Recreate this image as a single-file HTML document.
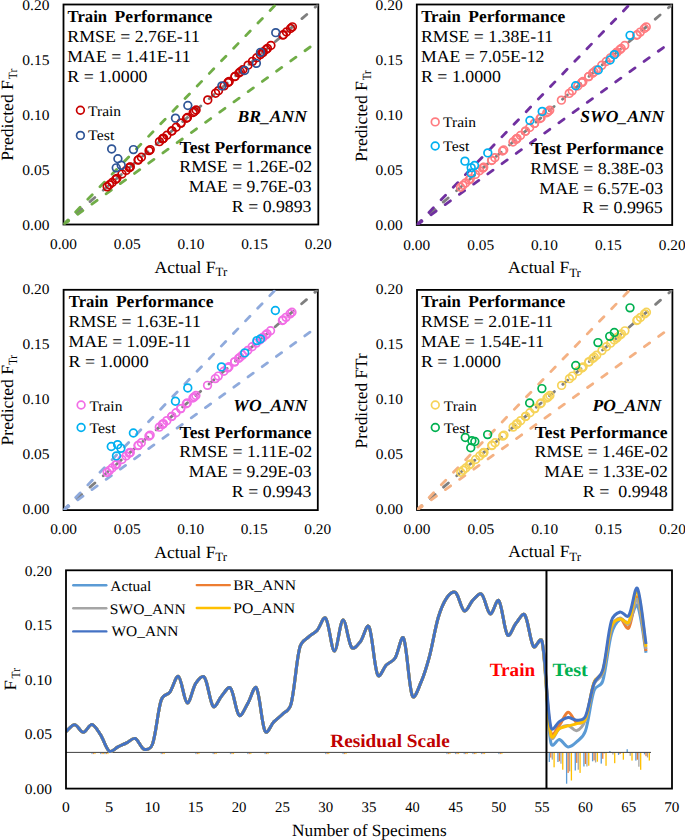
<!DOCTYPE html>
<html><head><meta charset="utf-8"><title>FTr charts</title>
<style>
html,body{margin:0;padding:0;background:#fff;}
body{width:685px;height:840px;overflow:hidden;}
svg{display:block;font-family:"Liberation Serif", serif;text-rendering:geometricPrecision;}
</style></head>
<body>
<svg width="685" height="840" viewBox="0 0 685 840">
<rect width="685" height="840" fill="#fff"/>
<clipPath id="c0"><rect x="63.5" y="4.5" width="254.8" height="220"/></clipPath>
<rect x="63.5" y="4.5" width="254.8" height="220" fill="none" stroke="#000" stroke-width="1.8"/>
<g clip-path="url(#c0)" fill="none" stroke-linecap="round" stroke-width="2.8" stroke-dasharray="6.4 11.1">
<line x1="63.5" y1="224.5" x2="318.3" y2="4.5" stroke="#7F7F7F"/>
<line x1="63.5" y1="224.5" x2="275.83" y2="4.5" stroke="#70AD47"/>
<line x1="63.5" y1="224.5" x2="318.3" y2="41.17" stroke="#70AD47"/>
</g>
<g fill="none" stroke="#C80000" stroke-width="1.7">
<circle cx="129.91" cy="167.16" r="3.85"/>
<circle cx="138.08" cy="160.1" r="3.85"/>
<circle cx="129.21" cy="167.76" r="3.85"/>
<circle cx="138.43" cy="159.8" r="3.85"/>
<circle cx="126.18" cy="170.38" r="3.85"/>
<circle cx="107.15" cy="186.81" r="3.85"/>
<circle cx="112.17" cy="182.48" r="3.85"/>
<circle cx="116.84" cy="178.44" r="3.85"/>
<circle cx="121.98" cy="174.01" r="3.85"/>
<circle cx="109.49" cy="184.79" r="3.85"/>
<circle cx="115.56" cy="179.55" r="3.85"/>
<circle cx="166.91" cy="135.21" r="3.85"/>
<circle cx="176.13" cy="127.25" r="3.85"/>
<circle cx="194.46" cy="111.43" r="3.85"/>
<circle cx="163.53" cy="138.13" r="3.85"/>
<circle cx="186.52" cy="118.28" r="3.85"/>
<circle cx="193.18" cy="112.53" r="3.85"/>
<circle cx="159.44" cy="141.66" r="3.85"/>
<circle cx="171.93" cy="130.88" r="3.85"/>
<circle cx="180.92" cy="123.12" r="3.85"/>
<circle cx="149.06" cy="150.63" r="3.85"/>
<circle cx="162.95" cy="138.64" r="3.85"/>
<circle cx="180.92" cy="123.12" r="3.85"/>
<circle cx="130.26" cy="166.85" r="3.85"/>
<circle cx="141.35" cy="157.28" r="3.85"/>
<circle cx="150.22" cy="149.62" r="3.85"/>
<circle cx="162.48" cy="139.04" r="3.85"/>
<circle cx="228.08" cy="82.4" r="3.85"/>
<circle cx="240.33" cy="71.82" r="3.85"/>
<circle cx="248.03" cy="65.17" r="3.85"/>
<circle cx="262.51" cy="52.67" r="3.85"/>
<circle cx="224.11" cy="85.83" r="3.85"/>
<circle cx="260.29" cy="54.59" r="3.85"/>
<circle cx="228.19" cy="82.3" r="3.85"/>
<circle cx="234.96" cy="76.46" r="3.85"/>
<circle cx="252.47" cy="61.34" r="3.85"/>
<circle cx="196.09" cy="110.02" r="3.85"/>
<circle cx="207.77" cy="99.94" r="3.85"/>
<circle cx="215.59" cy="93.19" r="3.85"/>
<circle cx="238.93" cy="73.03" r="3.85"/>
<circle cx="171.82" cy="130.98" r="3.85"/>
<circle cx="187.46" cy="117.47" r="3.85"/>
<circle cx="218.5" cy="90.67" r="3.85"/>
<circle cx="263.21" cy="52.07" r="3.85"/>
<circle cx="286.44" cy="32.01" r="3.85"/>
<circle cx="292.39" cy="26.87" r="3.85"/>
<circle cx="270.91" cy="45.42" r="3.85"/>
<circle cx="283.4" cy="34.63" r="3.85"/>
<circle cx="290.52" cy="28.49" r="3.85"/>
<circle cx="267.41" cy="48.44" r="3.85"/>
<circle cx="282.82" cy="35.14" r="3.85"/>
<circle cx="242.78" cy="69.7" r="3.85"/>
<circle cx="256.67" cy="57.71" r="3.85"/>
<circle cx="266.13" cy="49.55" r="3.85"/>
<circle cx="229.24" cy="81.39" r="3.85"/>
<circle cx="234.96" cy="76.46" r="3.85"/>
</g>
<g fill="none" stroke="#2F5597" stroke-width="1.7">
<circle cx="111.66" cy="148.93" r="3.85"/>
<circle cx="117.9" cy="158.72" r="3.85"/>
<circle cx="116.24" cy="167.85" r="3.85"/>
<circle cx="121.21" cy="165.32" r="3.85"/>
<circle cx="133.44" cy="149.59" r="3.85"/>
<circle cx="175.48" cy="118.13" r="3.85"/>
<circle cx="187.84" cy="105.48" r="3.85"/>
<circle cx="221.86" cy="85.9" r="3.85"/>
<circle cx="244.66" cy="70.5" r="3.85"/>
<circle cx="256.38" cy="63.35" r="3.85"/>
<circle cx="260.46" cy="52.35" r="3.85"/>
<circle cx="275.75" cy="32.66" r="3.85"/>
</g>
<text x="67.55" y="22.3" font-size="16.9" textLength="39.5" lengthAdjust="spacingAndGlyphs" font-weight="bold">Train</text>
<text x="114.6" y="22.3" font-size="16.9" textLength="97.76" lengthAdjust="spacingAndGlyphs" font-weight="bold">Performance</text>
<text x="67.29" y="42.05" font-size="16.9" textLength="132.57" lengthAdjust="spacingAndGlyphs">RMSE = 2.76E-11</text>
<text x="67.29" y="61.8" font-size="16.9" textLength="123.37" lengthAdjust="spacingAndGlyphs">MAE = 1.41E-11</text>
<text x="67.28" y="81.55" font-size="16.9" textLength="80.3" lengthAdjust="spacingAndGlyphs">R = 1.0000</text>
<text x="237.56" y="121.9" font-size="16.9" textLength="69.41" lengthAdjust="spacingAndGlyphs" font-weight="bold" font-style="italic">BR_ANN</text>
<text x="179.63" y="152.6" font-size="16.9" textLength="132.02" lengthAdjust="spacingAndGlyphs" font-weight="bold">Test Performance</text>
<text x="179.39" y="172.3" font-size="16.9" textLength="132.79" lengthAdjust="spacingAndGlyphs">RMSE = 1.26E-02</text>
<text x="188.79" y="192" font-size="16.9" textLength="122.69" lengthAdjust="spacingAndGlyphs">MAE = 9.76E-03</text>
<text x="231.89" y="211.7" font-size="16.9" textLength="79.61" lengthAdjust="spacingAndGlyphs">R = 0.9893</text>
<circle cx="80.4" cy="110.3" r="3.85" fill="none" stroke="#C80000" stroke-width="1.7"/>
<circle cx="80.4" cy="135.4" r="3.85" fill="none" stroke="#2F5597" stroke-width="1.7"/>
<text x="88.12" y="115.8" font-size="14.6" textLength="33.01" lengthAdjust="spacingAndGlyphs">Train</text>
<text x="88.13" y="140.3" font-size="14.6" textLength="26.16" lengthAdjust="spacingAndGlyphs">Test</text>
<text x="50.07" y="249.1" font-size="14.8" textLength="26.87" lengthAdjust="spacingAndGlyphs">0.00</text>
<text x="22.31" y="229.8" font-size="14.8" textLength="27.08" lengthAdjust="spacingAndGlyphs">0.00</text>
<text x="113.76" y="249.1" font-size="14.8" textLength="26.89" lengthAdjust="spacingAndGlyphs">0.05</text>
<text x="22.31" y="174.8" font-size="14.8" textLength="27.09" lengthAdjust="spacingAndGlyphs">0.05</text>
<text x="177.47" y="249.1" font-size="14.8" textLength="26.87" lengthAdjust="spacingAndGlyphs">0.10</text>
<text x="22.31" y="119.8" font-size="14.8" textLength="27.08" lengthAdjust="spacingAndGlyphs">0.10</text>
<text x="241.16" y="249.1" font-size="14.8" textLength="26.89" lengthAdjust="spacingAndGlyphs">0.15</text>
<text x="22.31" y="64.8" font-size="14.8" textLength="27.09" lengthAdjust="spacingAndGlyphs">0.15</text>
<text x="304.87" y="249.1" font-size="14.8" textLength="26.87" lengthAdjust="spacingAndGlyphs">0.20</text>
<text x="22.31" y="9.8" font-size="14.8" textLength="27.08" lengthAdjust="spacingAndGlyphs">0.20</text>
<text x="154.53" y="272.5" font-size="17.2" textLength="61.11" lengthAdjust="spacingAndGlyphs">Actual F</text>
<text x="215.58" y="276.3" font-size="12.6" textLength="11.63" lengthAdjust="spacingAndGlyphs">Tr</text>
<g transform="translate(13.4,0)"><text x="-160.71" y="0" font-size="17.2" textLength="80.54" lengthAdjust="spacingAndGlyphs" transform="rotate(-90)">Predicted F</text></g>
<g transform="translate(17,0)"><text x="-79.2" y="0" font-size="12.6" textLength="10.4" lengthAdjust="spacingAndGlyphs" transform="rotate(-90)">Tr</text></g>
<clipPath id="c1"><rect x="416.8" y="4.5" width="255.4" height="220.5"/></clipPath>
<rect x="416.8" y="4.5" width="255.4" height="220.5" fill="none" stroke="#000" stroke-width="1.8"/>
<g clip-path="url(#c1)" fill="none" stroke-linecap="round" stroke-width="2.8" stroke-dasharray="6.4 11.1">
<line x1="416.8" y1="225" x2="672.2" y2="4.5" stroke="#7F7F7F"/>
<line x1="416.8" y1="225" x2="629.63" y2="4.5" stroke="#7030A0"/>
<line x1="416.8" y1="225" x2="672.2" y2="41.25" stroke="#7030A0"/>
</g>
<g fill="none" stroke="#FF7C80" stroke-width="1.7">
<circle cx="483.37" cy="167.53" r="3.85"/>
<circle cx="491.56" cy="160.46" r="3.85"/>
<circle cx="482.67" cy="168.13" r="3.85"/>
<circle cx="491.91" cy="160.15" r="3.85"/>
<circle cx="479.63" cy="170.76" r="3.85"/>
<circle cx="460.56" cy="187.22" r="3.85"/>
<circle cx="465.59" cy="182.88" r="3.85"/>
<circle cx="470.27" cy="178.84" r="3.85"/>
<circle cx="475.41" cy="174.4" r="3.85"/>
<circle cx="462.9" cy="185.2" r="3.85"/>
<circle cx="468.98" cy="179.95" r="3.85"/>
<circle cx="520.46" cy="135.51" r="3.85"/>
<circle cx="529.7" cy="127.53" r="3.85"/>
<circle cx="548.07" cy="111.67" r="3.85"/>
<circle cx="517.06" cy="138.44" r="3.85"/>
<circle cx="540.11" cy="118.54" r="3.85"/>
<circle cx="546.78" cy="112.78" r="3.85"/>
<circle cx="512.97" cy="141.97" r="3.85"/>
<circle cx="525.49" cy="131.16" r="3.85"/>
<circle cx="534.5" cy="123.39" r="3.85"/>
<circle cx="502.56" cy="150.96" r="3.85"/>
<circle cx="516.48" cy="138.94" r="3.85"/>
<circle cx="534.5" cy="123.39" r="3.85"/>
<circle cx="483.72" cy="167.22" r="3.85"/>
<circle cx="494.84" cy="157.63" r="3.85"/>
<circle cx="503.73" cy="149.95" r="3.85"/>
<circle cx="516.01" cy="139.35" r="3.85"/>
<circle cx="581.76" cy="82.58" r="3.85"/>
<circle cx="594.05" cy="71.97" r="3.85"/>
<circle cx="601.77" cy="65.31" r="3.85"/>
<circle cx="616.28" cy="52.78" r="3.85"/>
<circle cx="577.79" cy="86.01" r="3.85"/>
<circle cx="614.05" cy="54.7" r="3.85"/>
<circle cx="581.88" cy="82.48" r="3.85"/>
<circle cx="588.67" cy="76.62" r="3.85"/>
<circle cx="606.21" cy="61.47" r="3.85"/>
<circle cx="549.71" cy="110.26" r="3.85"/>
<circle cx="561.41" cy="100.15" r="3.85"/>
<circle cx="569.24" cy="93.39" r="3.85"/>
<circle cx="592.64" cy="73.19" r="3.85"/>
<circle cx="525.37" cy="131.26" r="3.85"/>
<circle cx="541.05" cy="117.73" r="3.85"/>
<circle cx="572.17" cy="90.86" r="3.85"/>
<circle cx="616.98" cy="52.18" r="3.85"/>
<circle cx="640.26" cy="32.08" r="3.85"/>
<circle cx="646.23" cy="26.92" r="3.85"/>
<circle cx="624.7" cy="45.51" r="3.85"/>
<circle cx="637.22" cy="34.7" r="3.85"/>
<circle cx="644.36" cy="28.54" r="3.85"/>
<circle cx="621.19" cy="48.54" r="3.85"/>
<circle cx="636.63" cy="35.21" r="3.85"/>
<circle cx="596.5" cy="69.85" r="3.85"/>
<circle cx="610.43" cy="57.83" r="3.85"/>
<circle cx="619.9" cy="49.65" r="3.85"/>
<circle cx="582.93" cy="81.57" r="3.85"/>
<circle cx="588.67" cy="76.62" r="3.85"/>
</g>
<g fill="none" stroke="#00B0F0" stroke-width="1.7">
<circle cx="464.94" cy="161.17" r="3.85"/>
<circle cx="471.2" cy="167.67" r="3.85"/>
<circle cx="474.52" cy="165.47" r="3.85"/>
<circle cx="471.2" cy="173.18" r="3.85"/>
<circle cx="487.8" cy="152.9" r="3.85"/>
<circle cx="529.94" cy="120.48" r="3.85"/>
<circle cx="542.2" cy="111.44" r="3.85"/>
<circle cx="575.66" cy="85.75" r="3.85"/>
<circle cx="598.26" cy="69.99" r="3.85"/>
<circle cx="610.14" cy="59.96" r="3.85"/>
<circle cx="614.35" cy="54.66" r="3.85"/>
<circle cx="630.06" cy="35.37" r="3.85"/>
</g>
<text x="421.25" y="22.3" font-size="16.9" textLength="39.5" lengthAdjust="spacingAndGlyphs" font-weight="bold">Train</text>
<text x="468.3" y="22.3" font-size="16.9" textLength="97.05" lengthAdjust="spacingAndGlyphs" font-weight="bold">Performance</text>
<text x="420.99" y="42.05" font-size="16.9" textLength="132.27" lengthAdjust="spacingAndGlyphs">RMSE = 1.38E-11</text>
<text x="420.99" y="61.8" font-size="16.9" textLength="123.38" lengthAdjust="spacingAndGlyphs">MAE = 7.05E-12</text>
<text x="420.99" y="81.55" font-size="16.9" textLength="79.99" lengthAdjust="spacingAndGlyphs">R = 1.0000</text>
<text x="580.28" y="121.5" font-size="16.9" textLength="83.99" lengthAdjust="spacingAndGlyphs" font-weight="bold" font-style="italic">SWO_ANN</text>
<text x="531.03" y="154.3" font-size="16.9" textLength="132.42" lengthAdjust="spacingAndGlyphs" font-weight="bold">Test Performance</text>
<text x="530.39" y="174.2" font-size="16.9" textLength="132.91" lengthAdjust="spacingAndGlyphs">RMSE = 8.38E-03</text>
<text x="539.39" y="193.9" font-size="16.9" textLength="123.7" lengthAdjust="spacingAndGlyphs">MAE = 6.57E-03</text>
<text x="582.38" y="213.1" font-size="16.9" textLength="80.42" lengthAdjust="spacingAndGlyphs">R = 0.9965</text>
<circle cx="435.2" cy="121.9" r="3.85" fill="none" stroke="#FF7C80" stroke-width="1.7"/>
<circle cx="435.2" cy="146" r="3.85" fill="none" stroke="#00B0F0" stroke-width="1.7"/>
<text x="443.12" y="127.2" font-size="14.6" textLength="33.01" lengthAdjust="spacingAndGlyphs">Train</text>
<text x="443.13" y="151.3" font-size="14.6" textLength="26.16" lengthAdjust="spacingAndGlyphs">Test</text>
<text x="403.37" y="249.6" font-size="14.8" textLength="26.87" lengthAdjust="spacingAndGlyphs">0.00</text>
<text x="375.61" y="230.3" font-size="14.8" textLength="27.08" lengthAdjust="spacingAndGlyphs">0.00</text>
<text x="467.21" y="249.6" font-size="14.8" textLength="26.89" lengthAdjust="spacingAndGlyphs">0.05</text>
<text x="375.61" y="175.18" font-size="14.8" textLength="27.09" lengthAdjust="spacingAndGlyphs">0.05</text>
<text x="531.07" y="249.6" font-size="14.8" textLength="26.87" lengthAdjust="spacingAndGlyphs">0.10</text>
<text x="375.61" y="120.05" font-size="14.8" textLength="27.08" lengthAdjust="spacingAndGlyphs">0.10</text>
<text x="594.91" y="249.6" font-size="14.8" textLength="26.89" lengthAdjust="spacingAndGlyphs">0.15</text>
<text x="375.61" y="64.92" font-size="14.8" textLength="27.09" lengthAdjust="spacingAndGlyphs">0.15</text>
<text x="658.77" y="249.6" font-size="14.8" textLength="26.87" lengthAdjust="spacingAndGlyphs">0.20</text>
<text x="375.61" y="9.8" font-size="14.8" textLength="27.08" lengthAdjust="spacingAndGlyphs">0.20</text>
<text x="508.13" y="273" font-size="17.2" textLength="61.11" lengthAdjust="spacingAndGlyphs">Actual F</text>
<text x="569.18" y="276.8" font-size="12.6" textLength="11.63" lengthAdjust="spacingAndGlyphs">Tr</text>
<g transform="translate(367,0)"><text x="-161.71" y="0" font-size="17.2" textLength="80.54" lengthAdjust="spacingAndGlyphs" transform="rotate(-90)">Predicted F</text></g>
<g transform="translate(370.6,0)"><text x="-80.19" y="0" font-size="12.6" textLength="9.78" lengthAdjust="spacingAndGlyphs" transform="rotate(-90)">Tr</text></g>
<clipPath id="c2"><rect x="63.6" y="289.8" width="254.2" height="220.3"/></clipPath>
<rect x="63.6" y="289.8" width="254.2" height="220.3" fill="none" stroke="#000" stroke-width="1.8"/>
<g clip-path="url(#c2)" fill="none" stroke-linecap="round" stroke-width="2.8" stroke-dasharray="6.4 11.1">
<line x1="63.6" y1="510.1" x2="317.8" y2="289.8" stroke="#7F7F7F"/>
<line x1="63.6" y1="510.1" x2="275.43" y2="289.8" stroke="#8FAADC"/>
<line x1="63.6" y1="510.1" x2="317.8" y2="326.52" stroke="#8FAADC"/>
</g>
<g fill="none" stroke="#F26EE6" stroke-width="1.7">
<circle cx="129.86" cy="452.68" r="3.85"/>
<circle cx="138.01" cy="445.61" r="3.85"/>
<circle cx="129.16" cy="453.28" r="3.85"/>
<circle cx="138.36" cy="445.31" r="3.85"/>
<circle cx="126.13" cy="455.91" r="3.85"/>
<circle cx="107.15" cy="472.36" r="3.85"/>
<circle cx="112.16" cy="468.02" r="3.85"/>
<circle cx="116.82" cy="463.98" r="3.85"/>
<circle cx="121.94" cy="459.54" r="3.85"/>
<circle cx="109.48" cy="470.34" r="3.85"/>
<circle cx="115.53" cy="465.09" r="3.85"/>
<circle cx="166.77" cy="420.69" r="3.85"/>
<circle cx="175.97" cy="412.72" r="3.85"/>
<circle cx="194.25" cy="396.87" r="3.85"/>
<circle cx="163.39" cy="423.61" r="3.85"/>
<circle cx="186.33" cy="403.73" r="3.85"/>
<circle cx="192.97" cy="397.98" r="3.85"/>
<circle cx="159.32" cy="427.15" r="3.85"/>
<circle cx="171.78" cy="416.35" r="3.85"/>
<circle cx="180.74" cy="408.58" r="3.85"/>
<circle cx="148.95" cy="436.13" r="3.85"/>
<circle cx="162.81" cy="424.12" r="3.85"/>
<circle cx="180.74" cy="408.58" r="3.85"/>
<circle cx="130.21" cy="452.38" r="3.85"/>
<circle cx="141.27" cy="442.79" r="3.85"/>
<circle cx="150.12" cy="435.12" r="3.85"/>
<circle cx="162.35" cy="424.52" r="3.85"/>
<circle cx="227.79" cy="367.81" r="3.85"/>
<circle cx="240.01" cy="357.21" r="3.85"/>
<circle cx="247.7" cy="350.55" r="3.85"/>
<circle cx="262.14" cy="338.04" r="3.85"/>
<circle cx="223.83" cy="371.24" r="3.85"/>
<circle cx="259.93" cy="339.96" r="3.85"/>
<circle cx="227.9" cy="367.71" r="3.85"/>
<circle cx="234.66" cy="361.85" r="3.85"/>
<circle cx="252.12" cy="346.72" r="3.85"/>
<circle cx="195.88" cy="395.46" r="3.85"/>
<circle cx="207.53" cy="385.37" r="3.85"/>
<circle cx="215.33" cy="378.61" r="3.85"/>
<circle cx="238.62" cy="358.42" r="3.85"/>
<circle cx="171.66" cy="416.45" r="3.85"/>
<circle cx="187.26" cy="402.93" r="3.85"/>
<circle cx="218.24" cy="376.08" r="3.85"/>
<circle cx="262.84" cy="337.43" r="3.85"/>
<circle cx="286.01" cy="317.35" r="3.85"/>
<circle cx="291.95" cy="312.2" r="3.85"/>
<circle cx="270.52" cy="330.77" r="3.85"/>
<circle cx="282.98" cy="319.97" r="3.85"/>
<circle cx="290.09" cy="313.82" r="3.85"/>
<circle cx="267.03" cy="333.8" r="3.85"/>
<circle cx="282.4" cy="320.48" r="3.85"/>
<circle cx="242.46" cy="355.09" r="3.85"/>
<circle cx="256.32" cy="343.08" r="3.85"/>
<circle cx="265.75" cy="334.91" r="3.85"/>
<circle cx="228.95" cy="366.8" r="3.85"/>
<circle cx="234.66" cy="361.85" r="3.85"/>
</g>
<g fill="none" stroke="#00B0F0" stroke-width="1.7">
<circle cx="111.26" cy="446.54" r="3.85"/>
<circle cx="117.62" cy="444.67" r="3.85"/>
<circle cx="120.92" cy="448.31" r="3.85"/>
<circle cx="116.47" cy="455.91" r="3.85"/>
<circle cx="133.38" cy="433" r="3.85"/>
<circle cx="175.45" cy="401.27" r="3.85"/>
<circle cx="187.78" cy="387.94" r="3.85"/>
<circle cx="221.46" cy="366.9" r="3.85"/>
<circle cx="244.72" cy="352.92" r="3.85"/>
<circle cx="256.92" cy="340.58" r="3.85"/>
<circle cx="260.48" cy="338.93" r="3.85"/>
<circle cx="275.35" cy="310.51" r="3.85"/>
</g>
<text x="68.85" y="307.3" font-size="16.9" textLength="39.5" lengthAdjust="spacingAndGlyphs" font-weight="bold">Train</text>
<text x="115.9" y="307.3" font-size="16.9" textLength="97.55" lengthAdjust="spacingAndGlyphs" font-weight="bold">Performance</text>
<text x="68.59" y="327.05" font-size="16.9" textLength="132.37" lengthAdjust="spacingAndGlyphs">RMSE = 1.63E-11</text>
<text x="68.59" y="346.8" font-size="16.9" textLength="122.46" lengthAdjust="spacingAndGlyphs">MAE = 1.09E-11</text>
<text x="68.59" y="366.55" font-size="16.9" textLength="80.1" lengthAdjust="spacingAndGlyphs">R = 1.0000</text>
<text x="233.39" y="411.3" font-size="16.9" textLength="74.09" lengthAdjust="spacingAndGlyphs" font-weight="bold" font-style="italic">WO_ANN</text>
<text x="179.63" y="437.6" font-size="16.9" textLength="132.02" lengthAdjust="spacingAndGlyphs" font-weight="bold">Test Performance</text>
<text x="179.39" y="457.3" font-size="16.9" textLength="132.79" lengthAdjust="spacingAndGlyphs">RMSE = 1.11E-02</text>
<text x="188.79" y="477" font-size="16.9" textLength="122.69" lengthAdjust="spacingAndGlyphs">MAE = 9.29E-03</text>
<text x="231.89" y="496.7" font-size="16.9" textLength="79.61" lengthAdjust="spacingAndGlyphs">R = 0.9943</text>
<circle cx="81.1" cy="405" r="3.85" fill="none" stroke="#F26EE6" stroke-width="1.7"/>
<circle cx="81.1" cy="427.5" r="3.85" fill="none" stroke="#00B0F0" stroke-width="1.7"/>
<text x="89.42" y="410.6" font-size="14.6" textLength="33.01" lengthAdjust="spacingAndGlyphs">Train</text>
<text x="89.43" y="433.1" font-size="14.6" textLength="26.16" lengthAdjust="spacingAndGlyphs">Test</text>
<text x="50.17" y="533.6" font-size="14.8" textLength="26.87" lengthAdjust="spacingAndGlyphs">0.00</text>
<text x="22.41" y="514.3" font-size="14.8" textLength="27.08" lengthAdjust="spacingAndGlyphs">0.00</text>
<text x="113.71" y="533.6" font-size="14.8" textLength="26.89" lengthAdjust="spacingAndGlyphs">0.05</text>
<text x="22.41" y="459.23" font-size="14.8" textLength="27.09" lengthAdjust="spacingAndGlyphs">0.05</text>
<text x="177.27" y="533.6" font-size="14.8" textLength="26.87" lengthAdjust="spacingAndGlyphs">0.10</text>
<text x="22.41" y="404.15" font-size="14.8" textLength="27.08" lengthAdjust="spacingAndGlyphs">0.10</text>
<text x="240.81" y="533.6" font-size="14.8" textLength="26.89" lengthAdjust="spacingAndGlyphs">0.15</text>
<text x="22.41" y="349.07" font-size="14.8" textLength="27.09" lengthAdjust="spacingAndGlyphs">0.15</text>
<text x="304.37" y="533.6" font-size="14.8" textLength="26.87" lengthAdjust="spacingAndGlyphs">0.20</text>
<text x="22.41" y="294" font-size="14.8" textLength="27.08" lengthAdjust="spacingAndGlyphs">0.20</text>
<text x="154.33" y="557.55" font-size="17.2" textLength="61.11" lengthAdjust="spacingAndGlyphs">Actual F</text>
<text x="215.38" y="561.35" font-size="12.6" textLength="11.63" lengthAdjust="spacingAndGlyphs">Tr</text>
<g transform="translate(13.4,0)"><text x="-445.51" y="0" font-size="17.2" textLength="80.54" lengthAdjust="spacingAndGlyphs" transform="rotate(-90)">Predicted F</text></g>
<g transform="translate(17,0)"><text x="-364.78" y="0" font-size="12.6" textLength="9.57" lengthAdjust="spacingAndGlyphs" transform="rotate(-90)">Tr</text></g>
<clipPath id="c3"><rect x="417" y="289.9" width="255.4" height="220.1"/></clipPath>
<rect x="417" y="289.9" width="255.4" height="220.1" fill="none" stroke="#000" stroke-width="1.8"/>
<g clip-path="url(#c3)" fill="none" stroke-linecap="round" stroke-width="2.8" stroke-dasharray="6.4 11.1">
<line x1="417" y1="510" x2="672.4" y2="289.9" stroke="#7F7F7F"/>
<line x1="417" y1="510" x2="629.83" y2="289.9" stroke="#F4B183"/>
<line x1="417" y1="510" x2="672.4" y2="326.58" stroke="#F4B183"/>
</g>
<g fill="none" stroke="#F6D359" stroke-width="1.7">
<circle cx="483.57" cy="452.63" r="3.85"/>
<circle cx="491.76" cy="445.57" r="3.85"/>
<circle cx="482.87" cy="453.24" r="3.85"/>
<circle cx="492.11" cy="445.27" r="3.85"/>
<circle cx="479.83" cy="455.86" r="3.85"/>
<circle cx="460.76" cy="472.29" r="3.85"/>
<circle cx="465.79" cy="467.96" r="3.85"/>
<circle cx="470.47" cy="463.92" r="3.85"/>
<circle cx="475.61" cy="459.49" r="3.85"/>
<circle cx="463.1" cy="470.28" r="3.85"/>
<circle cx="469.18" cy="465.03" r="3.85"/>
<circle cx="520.66" cy="420.67" r="3.85"/>
<circle cx="529.9" cy="412.7" r="3.85"/>
<circle cx="548.27" cy="396.87" r="3.85"/>
<circle cx="517.26" cy="423.59" r="3.85"/>
<circle cx="540.31" cy="403.73" r="3.85"/>
<circle cx="546.98" cy="397.98" r="3.85"/>
<circle cx="513.17" cy="427.12" r="3.85"/>
<circle cx="525.69" cy="416.33" r="3.85"/>
<circle cx="534.7" cy="408.57" r="3.85"/>
<circle cx="502.76" cy="436.1" r="3.85"/>
<circle cx="516.68" cy="424.1" r="3.85"/>
<circle cx="534.7" cy="408.57" r="3.85"/>
<circle cx="483.92" cy="452.33" r="3.85"/>
<circle cx="495.04" cy="442.75" r="3.85"/>
<circle cx="503.93" cy="435.09" r="3.85"/>
<circle cx="516.21" cy="424.5" r="3.85"/>
<circle cx="581.96" cy="367.84" r="3.85"/>
<circle cx="594.25" cy="357.25" r="3.85"/>
<circle cx="601.97" cy="350.6" r="3.85"/>
<circle cx="616.48" cy="338.09" r="3.85"/>
<circle cx="577.99" cy="371.27" r="3.85"/>
<circle cx="614.25" cy="340.01" r="3.85"/>
<circle cx="582.08" cy="367.74" r="3.85"/>
<circle cx="588.87" cy="361.89" r="3.85"/>
<circle cx="606.41" cy="346.77" r="3.85"/>
<circle cx="549.91" cy="395.46" r="3.85"/>
<circle cx="561.61" cy="385.38" r="3.85"/>
<circle cx="569.44" cy="378.63" r="3.85"/>
<circle cx="592.84" cy="358.46" r="3.85"/>
<circle cx="525.57" cy="416.43" r="3.85"/>
<circle cx="541.25" cy="402.92" r="3.85"/>
<circle cx="572.37" cy="376.1" r="3.85"/>
<circle cx="617.18" cy="337.49" r="3.85"/>
<circle cx="640.46" cy="317.43" r="3.85"/>
<circle cx="646.43" cy="312.28" r="3.85"/>
<circle cx="624.9" cy="330.83" r="3.85"/>
<circle cx="637.42" cy="320.05" r="3.85"/>
<circle cx="644.56" cy="313.9" r="3.85"/>
<circle cx="621.39" cy="333.86" r="3.85"/>
<circle cx="636.83" cy="320.55" r="3.85"/>
<circle cx="596.7" cy="355.13" r="3.85"/>
<circle cx="610.63" cy="343.14" r="3.85"/>
<circle cx="620.1" cy="334.97" r="3.85"/>
<circle cx="583.13" cy="366.83" r="3.85"/>
<circle cx="588.87" cy="361.89" r="3.85"/>
</g>
<g fill="none" stroke="#00B050" stroke-width="1.7">
<circle cx="465.27" cy="437.48" r="3.85"/>
<circle cx="471.91" cy="440.78" r="3.85"/>
<circle cx="474.85" cy="441.55" r="3.85"/>
<circle cx="470.76" cy="447.71" r="3.85"/>
<circle cx="487.62" cy="434.62" r="3.85"/>
<circle cx="529.63" cy="403.03" r="3.85"/>
<circle cx="541.89" cy="388.61" r="3.85"/>
<circle cx="575.73" cy="365.5" r="3.85"/>
<circle cx="597.95" cy="342.61" r="3.85"/>
<circle cx="609.7" cy="336.34" r="3.85"/>
<circle cx="614.3" cy="332.49" r="3.85"/>
<circle cx="630" cy="307.84" r="3.85"/>
</g>
<text x="421.25" y="307.3" font-size="16.9" textLength="39.5" lengthAdjust="spacingAndGlyphs" font-weight="bold">Train</text>
<text x="468.3" y="307.3" font-size="16.9" textLength="97.05" lengthAdjust="spacingAndGlyphs" font-weight="bold">Performance</text>
<text x="420.99" y="327.05" font-size="16.9" textLength="132.27" lengthAdjust="spacingAndGlyphs">RMSE = 2.01E-11</text>
<text x="420.99" y="346.8" font-size="16.9" textLength="123.07" lengthAdjust="spacingAndGlyphs">MAE = 1.54E-11</text>
<text x="420.99" y="366.55" font-size="16.9" textLength="79.99" lengthAdjust="spacingAndGlyphs">R = 1.0000</text>
<text x="592.61" y="411.3" font-size="16.9" textLength="68.87" lengthAdjust="spacingAndGlyphs" font-weight="bold" font-style="italic">PO_ANN</text>
<text x="534.73" y="437.6" font-size="16.9" textLength="132.82" lengthAdjust="spacingAndGlyphs" font-weight="bold">Test Performance</text>
<text x="534.49" y="457.3" font-size="16.9" textLength="133.6" lengthAdjust="spacingAndGlyphs">RMSE = 1.46E-02</text>
<text x="544.39" y="477" font-size="16.9" textLength="123.59" lengthAdjust="spacingAndGlyphs">MAE = 1.33E-02</text>
<text x="582.68" y="496.7" font-size="16.9" textLength="85" lengthAdjust="spacingAndGlyphs">R = &#160;0.9948</text>
<circle cx="435.3" cy="405" r="3.85" fill="none" stroke="#F6D359" stroke-width="1.7"/>
<circle cx="435.3" cy="427.5" r="3.85" fill="none" stroke="#00B050" stroke-width="1.7"/>
<text x="443.72" y="410.6" font-size="14.6" textLength="33.01" lengthAdjust="spacingAndGlyphs">Train</text>
<text x="443.73" y="433.1" font-size="14.6" textLength="26.16" lengthAdjust="spacingAndGlyphs">Test</text>
<text x="403.57" y="533.5" font-size="14.8" textLength="26.87" lengthAdjust="spacingAndGlyphs">0.00</text>
<text x="375.81" y="514.2" font-size="14.8" textLength="27.08" lengthAdjust="spacingAndGlyphs">0.00</text>
<text x="467.41" y="533.5" font-size="14.8" textLength="26.89" lengthAdjust="spacingAndGlyphs">0.05</text>
<text x="375.81" y="459.18" font-size="14.8" textLength="27.09" lengthAdjust="spacingAndGlyphs">0.05</text>
<text x="531.27" y="533.5" font-size="14.8" textLength="26.87" lengthAdjust="spacingAndGlyphs">0.10</text>
<text x="375.81" y="404.15" font-size="14.8" textLength="27.08" lengthAdjust="spacingAndGlyphs">0.10</text>
<text x="595.11" y="533.5" font-size="14.8" textLength="26.89" lengthAdjust="spacingAndGlyphs">0.15</text>
<text x="375.81" y="349.12" font-size="14.8" textLength="27.09" lengthAdjust="spacingAndGlyphs">0.15</text>
<text x="658.97" y="533.5" font-size="14.8" textLength="26.87" lengthAdjust="spacingAndGlyphs">0.20</text>
<text x="375.81" y="294.1" font-size="14.8" textLength="27.08" lengthAdjust="spacingAndGlyphs">0.20</text>
<text x="508.33" y="557.45" font-size="17.2" textLength="61.11" lengthAdjust="spacingAndGlyphs">Actual F</text>
<text x="569.38" y="561.25" font-size="12.6" textLength="11.63" lengthAdjust="spacingAndGlyphs">Tr</text>
<g transform="translate(367,0)"><text x="-448.4" y="0" font-size="17.2" textLength="95.15" lengthAdjust="spacingAndGlyphs" transform="rotate(-90)">Predicted FTr</text></g>
<rect x="66" y="570.3" width="606" height="218.3" fill="#fff"/>
<clipPath id="cb"><rect x="66" y="570.3" width="606" height="218.3"/></clipPath>
<g>
<rect x="548.65" y="752.4" width="1.3" height="9.6" fill="#5B9BD5"/>
<rect x="550.15" y="752.4" width="1.3" height="5.2" fill="#ED7D31"/>
<rect x="551.65" y="752.4" width="1.3" height="7.2" fill="#A5A5A5"/>
<rect x="553.45" y="752.4" width="1.3" height="14.9" fill="#FFC000"/>
<rect x="557.31" y="752.4" width="1.3" height="9.6" fill="#5B9BD5"/>
<rect x="558.81" y="752.4" width="1.3" height="8.9" fill="#ED7D31"/>
<rect x="560.31" y="752.4" width="1.3" height="11.3" fill="#A5A5A5"/>
<rect x="562.11" y="752.4" width="1.3" height="17.3" fill="#FFC000"/>
<rect x="565.96" y="752.4" width="1.3" height="31.3" fill="#5B9BD5"/>
<rect x="567.46" y="752.4" width="1.3" height="20.5" fill="#ED7D31"/>
<rect x="568.96" y="752.4" width="1.3" height="18.9" fill="#A5A5A5"/>
<rect x="570.76" y="752.4" width="1.3" height="28.1" fill="#FFC000"/>
<rect x="574.62" y="752.4" width="1.3" height="18.1" fill="#5B9BD5"/>
<rect x="576.12" y="752.4" width="1.3" height="10.5" fill="#ED7D31"/>
<rect x="577.62" y="752.4" width="1.3" height="17.3" fill="#A5A5A5"/>
<rect x="579.42" y="752.4" width="1.3" height="20.5" fill="#FFC000"/>
<rect x="583.28" y="752.4" width="1.3" height="14.1" fill="#5B9BD5"/>
<rect x="584.78" y="752.4" width="1.3" height="11.6" fill="#ED7D31"/>
<rect x="586.28" y="752.4" width="1.3" height="14.1" fill="#A5A5A5"/>
<rect x="588.08" y="752.4" width="1.3" height="13.3" fill="#FFC000"/>
<rect x="591.94" y="752.4" width="1.3" height="8.9" fill="#5B9BD5"/>
<rect x="593.44" y="752.4" width="1.3" height="8" fill="#ED7D31"/>
<rect x="594.94" y="752.4" width="1.3" height="10.1" fill="#A5A5A5"/>
<rect x="596.74" y="752.4" width="1.3" height="9.3" fill="#FFC000"/>
<rect x="600.59" y="752.4" width="1.3" height="11.2" fill="#5B9BD5"/>
<rect x="602.09" y="752.4" width="1.3" height="6.4" fill="#ED7D31"/>
<rect x="603.59" y="752.4" width="1.3" height="1.1" fill="#A5A5A5"/>
<rect x="605.39" y="752.4" width="1.3" height="13.4" fill="#FFC000"/>
<rect x="609.25" y="751" width="1.3" height="1.4" fill="#5B9BD5"/>
<rect x="610.75" y="752.4" width="1.3" height="0.6" fill="#ED7D31"/>
<rect x="612.25" y="752.4" width="1.3" height="2.1" fill="#A5A5A5"/>
<rect x="614.05" y="752.4" width="1.3" height="10.8" fill="#FFC000"/>
<rect x="617.91" y="752.4" width="1.3" height="2.5" fill="#5B9BD5"/>
<rect x="619.41" y="752.4" width="1.3" height="1.6" fill="#ED7D31"/>
<rect x="620.91" y="752.4" width="1.3" height="0.6" fill="#A5A5A5"/>
<rect x="622.71" y="752.4" width="1.3" height="7.3" fill="#FFC000"/>
<rect x="626.56" y="749.2" width="1.3" height="3.2" fill="#5B9BD5"/>
<rect x="628.06" y="752.4" width="1.3" height="0.6" fill="#ED7D31"/>
<rect x="629.56" y="752.4" width="1.3" height="3.4" fill="#A5A5A5"/>
<rect x="631.36" y="752.4" width="1.3" height="8.2" fill="#FFC000"/>
<rect x="635.22" y="752.4" width="1.3" height="8.2" fill="#5B9BD5"/>
<rect x="636.72" y="752.4" width="1.3" height="7.3" fill="#ED7D31"/>
<rect x="638.22" y="752.4" width="1.3" height="14.3" fill="#A5A5A5"/>
<rect x="640.02" y="752.4" width="1.3" height="17.4" fill="#FFC000"/>
<rect x="643.88" y="752.4" width="1.3" height="2" fill="#5B9BD5"/>
<rect x="645.38" y="752.4" width="1.3" height="3.8" fill="#ED7D31"/>
<rect x="646.88" y="752.4" width="1.3" height="5.1" fill="#A5A5A5"/>
<rect x="648.68" y="752.4" width="1.3" height="8.2" fill="#FFC000"/>
</g>
<rect x="91.37" y="752.8" width="1.2" height="1.3" fill="#5B9BD5" fill-opacity="0.8"/>
<rect x="92.87" y="752.8" width="1.2" height="1.3" fill="#ED7D31" fill-opacity="0.8"/>
<rect x="94.37" y="752.8" width="1.2" height="1.3" fill="#FFC000" fill-opacity="0.8"/>
<rect x="100.03" y="752.8" width="1.2" height="1.3" fill="#5B9BD5" fill-opacity="0.8"/>
<rect x="101.53" y="752.8" width="1.2" height="1.3" fill="#ED7D31" fill-opacity="0.8"/>
<rect x="103.03" y="752.8" width="1.2" height="1.3" fill="#FFC000" fill-opacity="0.8"/>
<rect x="104.36" y="752.8" width="1.2" height="1.3" fill="#5B9BD5" fill-opacity="0.8"/>
<rect x="105.86" y="752.8" width="1.2" height="1.3" fill="#ED7D31" fill-opacity="0.8"/>
<rect x="107.36" y="752.8" width="1.2" height="1.3" fill="#FFC000" fill-opacity="0.8"/>
<rect x="160.63" y="752.8" width="1.2" height="1.3" fill="#5B9BD5" fill-opacity="0.8"/>
<rect x="162.13" y="752.8" width="1.2" height="1.3" fill="#ED7D31" fill-opacity="0.8"/>
<rect x="163.63" y="752.8" width="1.2" height="1.3" fill="#FFC000" fill-opacity="0.8"/>
<rect x="195.26" y="752.8" width="1.2" height="1.3" fill="#5B9BD5" fill-opacity="0.8"/>
<rect x="196.76" y="752.8" width="1.2" height="1.3" fill="#ED7D31" fill-opacity="0.8"/>
<rect x="198.26" y="752.8" width="1.2" height="1.3" fill="#FFC000" fill-opacity="0.8"/>
<rect x="212.57" y="752.8" width="1.2" height="1.3" fill="#5B9BD5" fill-opacity="0.8"/>
<rect x="214.07" y="752.8" width="1.2" height="1.3" fill="#ED7D31" fill-opacity="0.8"/>
<rect x="215.57" y="752.8" width="1.2" height="1.3" fill="#FFC000" fill-opacity="0.8"/>
<rect x="229.89" y="752.8" width="1.2" height="1.3" fill="#5B9BD5" fill-opacity="0.8"/>
<rect x="231.39" y="752.8" width="1.2" height="1.3" fill="#ED7D31" fill-opacity="0.8"/>
<rect x="232.89" y="752.8" width="1.2" height="1.3" fill="#FFC000" fill-opacity="0.8"/>
<rect x="247.2" y="752.8" width="1.2" height="1.3" fill="#5B9BD5" fill-opacity="0.8"/>
<rect x="248.7" y="752.8" width="1.2" height="1.3" fill="#ED7D31" fill-opacity="0.8"/>
<rect x="250.2" y="752.8" width="1.2" height="1.3" fill="#FFC000" fill-opacity="0.8"/>
<rect x="264.51" y="752.8" width="1.2" height="1.3" fill="#5B9BD5" fill-opacity="0.8"/>
<rect x="266.01" y="752.8" width="1.2" height="1.3" fill="#ED7D31" fill-opacity="0.8"/>
<rect x="267.51" y="752.8" width="1.2" height="1.3" fill="#FFC000" fill-opacity="0.8"/>
<rect x="325.11" y="752.8" width="1.2" height="1.3" fill="#5B9BD5" fill-opacity="0.8"/>
<rect x="326.61" y="752.8" width="1.2" height="1.3" fill="#ED7D31" fill-opacity="0.8"/>
<rect x="328.11" y="752.8" width="1.2" height="1.3" fill="#FFC000" fill-opacity="0.8"/>
<rect x="342.43" y="752.8" width="1.2" height="1.3" fill="#5B9BD5" fill-opacity="0.8"/>
<rect x="343.93" y="752.8" width="1.2" height="1.3" fill="#ED7D31" fill-opacity="0.8"/>
<rect x="345.43" y="752.8" width="1.2" height="1.3" fill="#FFC000" fill-opacity="0.8"/>
<rect x="446.31" y="752.8" width="1.2" height="1.3" fill="#5B9BD5" fill-opacity="0.8"/>
<rect x="447.81" y="752.8" width="1.2" height="1.3" fill="#ED7D31" fill-opacity="0.8"/>
<rect x="449.31" y="752.8" width="1.2" height="1.3" fill="#FFC000" fill-opacity="0.8"/>
<rect x="454.97" y="752.8" width="1.2" height="1.3" fill="#5B9BD5" fill-opacity="0.8"/>
<rect x="456.47" y="752.8" width="1.2" height="1.3" fill="#ED7D31" fill-opacity="0.8"/>
<rect x="457.97" y="752.8" width="1.2" height="1.3" fill="#FFC000" fill-opacity="0.8"/>
<rect x="463.63" y="752.8" width="1.2" height="1.3" fill="#5B9BD5" fill-opacity="0.8"/>
<rect x="465.13" y="752.8" width="1.2" height="1.3" fill="#ED7D31" fill-opacity="0.8"/>
<rect x="466.63" y="752.8" width="1.2" height="1.3" fill="#FFC000" fill-opacity="0.8"/>
<rect x="472.29" y="752.8" width="1.2" height="1.3" fill="#5B9BD5" fill-opacity="0.8"/>
<rect x="473.79" y="752.8" width="1.2" height="1.3" fill="#ED7D31" fill-opacity="0.8"/>
<rect x="475.29" y="752.8" width="1.2" height="1.3" fill="#FFC000" fill-opacity="0.8"/>
<rect x="480.94" y="752.8" width="1.2" height="1.3" fill="#5B9BD5" fill-opacity="0.8"/>
<rect x="482.44" y="752.8" width="1.2" height="1.3" fill="#ED7D31" fill-opacity="0.8"/>
<rect x="483.94" y="752.8" width="1.2" height="1.3" fill="#FFC000" fill-opacity="0.8"/>
<rect x="498.26" y="752.8" width="1.2" height="1.3" fill="#5B9BD5" fill-opacity="0.8"/>
<rect x="499.76" y="752.8" width="1.2" height="1.3" fill="#ED7D31" fill-opacity="0.8"/>
<rect x="501.26" y="752.8" width="1.2" height="1.3" fill="#FFC000" fill-opacity="0.8"/>
<line x1="66" y1="752.4" x2="651" y2="752.4" stroke="#404040" stroke-width="1"/>
<g clip-path="url(#cb)" fill="none" stroke-width="3" stroke-linejoin="round" stroke-linecap="butt">
<path d="M66,731.7C67.9,730.16 71.79,724.6 74.66,724.7C77.56,724.8 80.44,732.35 83.31,732.3C86.21,732.25 89.17,723.98 91.97,724.4C94.94,724.85 97.93,730.72 100.63,734.9C103.68,739.63 106.07,748.97 109.29,751.2C111.77,752.92 115.05,748.29 117.94,746.9C120.82,745.52 123.72,744.29 126.6,742.9C129.5,741.49 132.58,737.53 135.26,738.5C138.33,739.62 140.86,748.23 143.91,749.2C146.61,750.06 150.64,749.5 152.57,744C156.08,734.02 157.76,710.4 161.23,700C163.26,693.92 167.26,695.68 169.89,692.1C173,687.86 175.93,674.77 178.54,676.4C181.66,678.35 184.17,701.71 187.2,702.9C189.93,703.97 192.6,687.97 195.86,683.2C198.29,679.64 202.31,674.54 204.51,677.5C207.9,682.03 209.9,702.96 213.17,706.4C215.56,708.92 218.85,698.87 221.83,695.7C224.61,692.74 228.17,685.38 230.49,688C233.81,691.76 235.92,712.43 239.14,715.3C241.61,717.5 245.02,707.78 247.8,703.4C250.79,698.69 254.15,684.27 256.46,688C259.79,693.38 261.68,724.67 265.11,731.4C267.21,735.51 270.82,724.81 273.77,721.9C276.59,719.11 279.64,717.21 282.43,714.3C285.41,711.19 289.11,711.4 291.09,703.8C294.58,690.34 296.25,661.06 299.74,647.6C301.72,640 305.39,640.07 308.4,637.1C311.15,634.38 314.37,633.45 317.06,630.5C320.12,627.14 323.34,615.29 325.71,618.1C329,621.99 331.45,650.68 334.37,651C337.22,651.31 340.08,620.6 343.03,620C345.85,619.43 348.32,643.28 351.69,647.5C353.93,650.31 357.77,644.79 360.34,641.7C363.5,637.91 366.78,622.42 369,626.7C372.37,633.19 374.2,667.34 377.66,675C379.71,679.53 383.32,667.89 386.31,665C389.09,662.32 392.51,662.09 394.97,658.3C398.21,653.31 401.36,633.4 403.63,638.3C406.98,645.56 408.83,687 412.29,695.8C414.35,701.05 418.4,688.27 420.94,682.4C424.12,675.06 426.92,665.85 429.6,655.8C432.67,644.29 435.06,628.23 438.26,617.5C440.78,609.03 443.64,602.32 446.91,597.6C449.32,594.13 453.13,590.62 455.57,592.5C458.81,594.99 461.13,609.52 464.23,610.9C466.88,612.08 469.86,603.14 472.89,600.2C475.61,597.55 479.1,592.17 481.54,594.1C484.79,596.67 487.14,612.73 490.2,613.9C492.9,614.93 496.48,597.8 498.86,600.7C502.14,604.7 504.2,630.71 507.51,635C509.85,638.02 513.17,626.57 516.17,623.1C518.93,619.92 522.59,611.96 524.83,615C528.19,619.57 530.06,641.32 533.49,646.6C535.61,649.88 540.69,633.67 542.14,641.7C545.81,662.01 547.12,721.73 550.8,742.5C552.21,750.45 556.7,738.8 559.46,739.5C562.46,740.26 565.16,746.52 568.11,746.9C570.93,747.26 574.07,744.18 576.77,741.7C579.83,738.89 583.24,737.46 585.43,731C588.82,720.96 590.67,700.37 594.09,690.5C596.23,684.32 600.7,687.68 602.74,681C606.2,669.7 608.03,645.98 611.4,634C613.63,626.1 616.86,621.63 620.06,619.5C622.56,617.83 626.29,624.46 628.71,622.5C631.97,619.87 635.07,601.48 637.37,605.5C640.7,611.31 644.12,642.32 646.03,652.7" stroke="#5B9BD5"/>
<path d="M66,731.7C67.9,730.16 71.79,724.6 74.66,724.7C77.56,724.8 80.44,732.35 83.31,732.3C86.21,732.25 89.17,723.98 91.97,724.4C94.94,724.85 97.93,730.72 100.63,734.9C103.68,739.63 106.07,748.97 109.29,751.2C111.77,752.92 115.05,748.29 117.94,746.9C120.82,745.52 123.72,744.29 126.6,742.9C129.5,741.49 132.58,737.53 135.26,738.5C138.33,739.62 140.86,748.23 143.91,749.2C146.61,750.06 150.64,749.5 152.57,744C156.08,734.02 157.76,710.4 161.23,700C163.26,693.92 167.26,695.68 169.89,692.1C173,687.86 175.93,674.77 178.54,676.4C181.66,678.35 184.17,701.71 187.2,702.9C189.93,703.97 192.6,687.97 195.86,683.2C198.29,679.64 202.31,674.54 204.51,677.5C207.9,682.03 209.9,702.96 213.17,706.4C215.56,708.92 218.85,698.87 221.83,695.7C224.61,692.74 228.17,685.38 230.49,688C233.81,691.76 235.92,712.43 239.14,715.3C241.61,717.5 245.02,707.78 247.8,703.4C250.79,698.69 254.15,684.27 256.46,688C259.79,693.38 261.68,724.67 265.11,731.4C267.21,735.51 270.82,724.81 273.77,721.9C276.59,719.11 279.64,717.21 282.43,714.3C285.41,711.19 289.11,711.4 291.09,703.8C294.58,690.34 296.25,661.06 299.74,647.6C301.72,640 305.39,640.07 308.4,637.1C311.15,634.38 314.37,633.45 317.06,630.5C320.12,627.14 323.34,615.29 325.71,618.1C329,621.99 331.45,650.68 334.37,651C337.22,651.31 340.08,620.6 343.03,620C345.85,619.43 348.32,643.28 351.69,647.5C353.93,650.31 357.77,644.79 360.34,641.7C363.5,637.91 366.78,622.42 369,626.7C372.37,633.19 374.2,667.34 377.66,675C379.71,679.53 383.32,667.89 386.31,665C389.09,662.32 392.51,662.09 394.97,658.3C398.21,653.31 401.36,633.4 403.63,638.3C406.98,645.56 408.83,687 412.29,695.8C414.35,701.05 418.4,688.27 420.94,682.4C424.12,675.06 426.92,665.85 429.6,655.8C432.67,644.29 435.06,628.23 438.26,617.5C440.78,609.03 443.64,602.32 446.91,597.6C449.32,594.13 453.13,590.62 455.57,592.5C458.81,594.99 461.13,609.52 464.23,610.9C466.88,612.08 469.86,603.14 472.89,600.2C475.61,597.55 479.1,592.17 481.54,594.1C484.79,596.67 487.14,612.73 490.2,613.9C492.9,614.93 496.48,597.8 498.86,600.7C502.14,604.7 504.2,630.71 507.51,635C509.85,638.02 513.17,626.57 516.17,623.1C518.93,619.92 522.59,611.96 524.83,615C528.19,619.57 530.06,641.32 533.49,646.6C535.61,649.88 540.63,634.26 542.14,641.7C545.8,659.72 547.16,714.51 550.8,732C552.37,739.56 556.77,728.06 559.46,725C562.52,721.52 565.15,712.75 568.11,712.3C570.91,711.88 573.69,721.23 576.77,722.4C579.44,723.42 583.43,723.51 585.43,718.9C588.91,710.87 590.73,691.69 594.09,682.5C596.35,676.28 600.59,678.19 602.74,671.4C606.15,660.67 607.96,638.52 611.4,628C613.5,621.57 617.17,618.4 620.06,618.4C622.94,618.4 626.4,630.85 628.71,628C632.04,623.89 634.81,593.6 637.37,597C640.54,601.2 644.12,639.12 646.03,651" stroke="#ED7D31"/>
<path d="M66,731.7C67.9,730.16 71.79,724.6 74.66,724.7C77.56,724.8 80.44,732.35 83.31,732.3C86.21,732.25 89.17,723.98 91.97,724.4C94.94,724.85 97.93,730.72 100.63,734.9C103.68,739.63 106.07,748.97 109.29,751.2C111.77,752.92 115.05,748.29 117.94,746.9C120.82,745.52 123.72,744.29 126.6,742.9C129.5,741.49 132.58,737.53 135.26,738.5C138.33,739.62 140.86,748.23 143.91,749.2C146.61,750.06 150.64,749.5 152.57,744C156.08,734.02 157.76,710.4 161.23,700C163.26,693.92 167.26,695.68 169.89,692.1C173,687.86 175.93,674.77 178.54,676.4C181.66,678.35 184.17,701.71 187.2,702.9C189.93,703.97 192.6,687.97 195.86,683.2C198.29,679.64 202.31,674.54 204.51,677.5C207.9,682.03 209.9,702.96 213.17,706.4C215.56,708.92 218.85,698.87 221.83,695.7C224.61,692.74 228.17,685.38 230.49,688C233.81,691.76 235.92,712.43 239.14,715.3C241.61,717.5 245.02,707.78 247.8,703.4C250.79,698.69 254.15,684.27 256.46,688C259.79,693.38 261.68,724.67 265.11,731.4C267.21,735.51 270.82,724.81 273.77,721.9C276.59,719.11 279.64,717.21 282.43,714.3C285.41,711.19 289.11,711.4 291.09,703.8C294.58,690.34 296.25,661.06 299.74,647.6C301.72,640 305.39,640.07 308.4,637.1C311.15,634.38 314.37,633.45 317.06,630.5C320.12,627.14 323.34,615.29 325.71,618.1C329,621.99 331.45,650.68 334.37,651C337.22,651.31 340.08,620.6 343.03,620C345.85,619.43 348.32,643.28 351.69,647.5C353.93,650.31 357.77,644.79 360.34,641.7C363.5,637.91 366.78,622.42 369,626.7C372.37,633.19 374.2,667.34 377.66,675C379.71,679.53 383.32,667.89 386.31,665C389.09,662.32 392.51,662.09 394.97,658.3C398.21,653.31 401.36,633.4 403.63,638.3C406.98,645.56 408.83,687 412.29,695.8C414.35,701.05 418.4,688.27 420.94,682.4C424.12,675.06 426.92,665.85 429.6,655.8C432.67,644.29 435.06,628.23 438.26,617.5C440.78,609.03 443.64,602.32 446.91,597.6C449.32,594.13 453.13,590.62 455.57,592.5C458.81,594.99 461.13,609.52 464.23,610.9C466.88,612.08 469.86,603.14 472.89,600.2C475.61,597.55 479.1,592.17 481.54,594.1C484.79,596.67 487.14,612.73 490.2,613.9C492.9,614.93 496.48,597.8 498.86,600.7C502.14,604.7 504.2,630.71 507.51,635C509.85,638.02 513.17,626.57 516.17,623.1C518.93,619.92 522.59,611.96 524.83,615C528.19,619.57 530.06,641.32 533.49,646.6C535.61,649.88 540.66,634.01 542.14,641.7C545.8,660.68 547.17,718.18 550.8,736.4C552.37,744.29 556.43,730.4 559.46,728.5C562.2,726.78 565.29,725.14 568.11,725.5C571.06,725.87 574.08,731.59 576.77,730.7C579.83,729.69 583.16,725.92 585.43,719.8C588.78,710.77 590.74,693.05 594.09,684C596.36,677.86 600.61,679.89 602.74,673C606.17,661.93 607.96,638.93 611.4,628C613.49,621.35 617.04,618.73 620.06,618C622.8,617.33 626.4,626.26 628.71,623.8C632.04,620.27 634.9,596.02 637.37,599.6C640.6,604.28 644.12,638.06 646.03,648.9" stroke="#A5A5A5"/>
<path d="M66,731.7C67.9,730.16 71.79,724.6 74.66,724.7C77.56,724.8 80.44,732.35 83.31,732.3C86.21,732.25 89.17,723.98 91.97,724.4C94.94,724.85 97.93,730.72 100.63,734.9C103.68,739.63 106.07,748.97 109.29,751.2C111.77,752.92 115.05,748.29 117.94,746.9C120.82,745.52 123.72,744.29 126.6,742.9C129.5,741.49 132.58,737.53 135.26,738.5C138.33,739.62 140.86,748.23 143.91,749.2C146.61,750.06 150.64,749.5 152.57,744C156.08,734.02 157.76,710.4 161.23,700C163.26,693.92 167.26,695.68 169.89,692.1C173,687.86 175.93,674.77 178.54,676.4C181.66,678.35 184.17,701.71 187.2,702.9C189.93,703.97 192.6,687.97 195.86,683.2C198.29,679.64 202.31,674.54 204.51,677.5C207.9,682.03 209.9,702.96 213.17,706.4C215.56,708.92 218.85,698.87 221.83,695.7C224.61,692.74 228.17,685.38 230.49,688C233.81,691.76 235.92,712.43 239.14,715.3C241.61,717.5 245.02,707.78 247.8,703.4C250.79,698.69 254.15,684.27 256.46,688C259.79,693.38 261.68,724.67 265.11,731.4C267.21,735.51 270.82,724.81 273.77,721.9C276.59,719.11 279.64,717.21 282.43,714.3C285.41,711.19 289.11,711.4 291.09,703.8C294.58,690.34 296.25,661.06 299.74,647.6C301.72,640 305.39,640.07 308.4,637.1C311.15,634.38 314.37,633.45 317.06,630.5C320.12,627.14 323.34,615.29 325.71,618.1C329,621.99 331.45,650.68 334.37,651C337.22,651.31 340.08,620.6 343.03,620C345.85,619.43 348.32,643.28 351.69,647.5C353.93,650.31 357.77,644.79 360.34,641.7C363.5,637.91 366.78,622.42 369,626.7C372.37,633.19 374.2,667.34 377.66,675C379.71,679.53 383.32,667.89 386.31,665C389.09,662.32 392.51,662.09 394.97,658.3C398.21,653.31 401.36,633.4 403.63,638.3C406.98,645.56 408.83,687 412.29,695.8C414.35,701.05 418.4,688.27 420.94,682.4C424.12,675.06 426.92,665.85 429.6,655.8C432.67,644.29 435.06,628.23 438.26,617.5C440.78,609.03 443.64,602.32 446.91,597.6C449.32,594.13 453.13,590.62 455.57,592.5C458.81,594.99 461.13,609.52 464.23,610.9C466.88,612.08 469.86,603.14 472.89,600.2C475.61,597.55 479.1,592.17 481.54,594.1C484.79,596.67 487.14,612.73 490.2,613.9C492.9,614.93 496.48,597.8 498.86,600.7C502.14,604.7 504.2,630.71 507.51,635C509.85,638.02 513.17,626.57 516.17,623.1C518.93,619.92 522.59,611.96 524.83,615C528.19,619.57 530.06,641.32 533.49,646.6C535.61,649.88 540.65,634.1 542.14,641.7C545.8,660.31 547.15,716.42 550.8,734.7C552.33,742.37 556.48,730.01 559.46,728.5C562.25,727.08 565.22,726.7 568.11,725.9C570.99,725.1 573.95,724.84 576.77,723.7C579.72,722.51 583.39,723.75 585.43,718.9C588.9,710.65 590.73,691.69 594.09,682.5C596.35,676.28 600.61,678.31 602.74,671.4C606.16,660.32 607.92,636.96 611.4,626.4C613.4,620.34 617.05,619.65 620.06,618.9C622.81,618.22 626.63,625.46 628.71,622.1C632.16,616.55 634.83,587.38 637.37,591C640.55,595.53 644.12,634.53 646.03,646.8" stroke="#FFC000"/>
<path d="M66,731.7C67.9,730.16 71.79,724.6 74.66,724.7C77.56,724.8 80.44,732.35 83.31,732.3C86.21,732.25 89.17,723.98 91.97,724.4C94.94,724.85 97.93,730.72 100.63,734.9C103.68,739.63 106.07,748.97 109.29,751.2C111.77,752.92 115.05,748.29 117.94,746.9C120.82,745.52 123.72,744.29 126.6,742.9C129.5,741.49 132.58,737.53 135.26,738.5C138.33,739.62 140.86,748.23 143.91,749.2C146.61,750.06 150.64,749.5 152.57,744C156.08,734.02 157.76,710.4 161.23,700C163.26,693.92 167.26,695.68 169.89,692.1C173,687.86 175.93,674.77 178.54,676.4C181.66,678.35 184.17,701.71 187.2,702.9C189.93,703.97 192.6,687.97 195.86,683.2C198.29,679.64 202.31,674.54 204.51,677.5C207.9,682.03 209.9,702.96 213.17,706.4C215.56,708.92 218.85,698.87 221.83,695.7C224.61,692.74 228.17,685.38 230.49,688C233.81,691.76 235.92,712.43 239.14,715.3C241.61,717.5 245.02,707.78 247.8,703.4C250.79,698.69 254.15,684.27 256.46,688C259.79,693.38 261.68,724.67 265.11,731.4C267.21,735.51 270.82,724.81 273.77,721.9C276.59,719.11 279.64,717.21 282.43,714.3C285.41,711.19 289.11,711.4 291.09,703.8C294.58,690.34 296.25,661.06 299.74,647.6C301.72,640 305.39,640.07 308.4,637.1C311.15,634.38 314.37,633.45 317.06,630.5C320.12,627.14 323.34,615.29 325.71,618.1C329,621.99 331.45,650.68 334.37,651C337.22,651.31 340.08,620.6 343.03,620C345.85,619.43 348.32,643.28 351.69,647.5C353.93,650.31 357.77,644.79 360.34,641.7C363.5,637.91 366.78,622.42 369,626.7C372.37,633.19 374.2,667.34 377.66,675C379.71,679.53 383.32,667.89 386.31,665C389.09,662.32 392.51,662.09 394.97,658.3C398.21,653.31 401.36,633.4 403.63,638.3C406.98,645.56 408.83,687 412.29,695.8C414.35,701.05 418.4,688.27 420.94,682.4C424.12,675.06 426.92,665.85 429.6,655.8C432.67,644.29 435.06,628.23 438.26,617.5C440.78,609.03 443.64,602.32 446.91,597.6C449.32,594.13 453.13,590.62 455.57,592.5C458.81,594.99 461.13,609.52 464.23,610.9C466.88,612.08 469.86,603.14 472.89,600.2C475.61,597.55 479.1,592.17 481.54,594.1C484.79,596.67 487.14,612.73 490.2,613.9C492.9,614.93 496.48,597.8 498.86,600.7C502.14,604.7 504.2,630.71 507.51,635C509.85,638.02 513.17,626.57 516.17,623.1C518.93,619.92 522.59,611.96 524.83,615C528.19,619.57 530.06,641.32 533.49,646.6C535.61,649.88 540.6,634.56 542.14,641.7C545.79,658.58 547.16,710.02 550.8,726.8C552.35,733.95 556.53,723.05 559.46,721.5C562.3,719.99 565.2,717.82 568.11,717.6C570.97,717.39 573.91,720.41 576.77,720.2C579.69,719.98 583.36,720.71 585.43,716.3C588.88,708.94 590.81,692.01 594.09,683.3C596.49,676.91 600.59,677.93 602.74,670.2C606.16,657.92 607.92,632.71 611.4,621C613.4,614.28 617.02,612.93 620.06,612C622.77,611.17 626.54,618.67 628.71,615.7C632.11,611.07 634.91,584.36 637.37,588.4C640.6,593.7 644.12,631.85 646.03,644.1" stroke="#4472C4"/>
</g>
<line x1="546.47" y1="570.3" x2="546.47" y2="788.6" stroke="#000" stroke-width="2"/>
<rect x="66" y="570.3" width="606" height="218.3" fill="none" stroke="#000" stroke-width="1.8"/>
<line x1="73.3" y1="585.3" x2="106.3" y2="585.3" stroke="#5B9BD5" stroke-width="2.4" stroke-linecap="round"/>
<text x="110.35" y="590.5" font-size="14.6" textLength="40.96" lengthAdjust="spacingAndGlyphs">Actual</text>
<line x1="73.3" y1="608.3" x2="106.3" y2="608.3" stroke="#A5A5A5" stroke-width="2.4" stroke-linecap="round"/>
<text x="109.86" y="613.6" font-size="14.6" textLength="75.89" lengthAdjust="spacingAndGlyphs">SWO_ANN</text>
<line x1="73.3" y1="631.4" x2="106.3" y2="631.4" stroke="#4472C4" stroke-width="2.4" stroke-linecap="round"/>
<text x="111.58" y="636.3" font-size="14.6" textLength="66.67" lengthAdjust="spacingAndGlyphs">WO_ANN</text>
<line x1="196.8" y1="585.1" x2="229.8" y2="585.1" stroke="#ED7D31" stroke-width="2.4" stroke-linecap="round"/>
<text x="233.35" y="590.4" font-size="14.6" textLength="62.61" lengthAdjust="spacingAndGlyphs">BR_ANN</text>
<line x1="196.8" y1="608" x2="229.8" y2="608" stroke="#FFC000" stroke-width="2.4" stroke-linecap="round"/>
<text x="233.35" y="613.4" font-size="14.6" textLength="61.81" lengthAdjust="spacingAndGlyphs">PO_ANN</text>
<text x="489.81" y="675.9" font-size="18.8" textLength="45.27" lengthAdjust="spacingAndGlyphs" font-weight="bold" fill="#FF0000">Train</text>
<text x="552.5" y="675.9" font-size="18.8" textLength="35.39" lengthAdjust="spacingAndGlyphs" font-weight="bold" fill="#00B050">Test</text>
<text x="330.27" y="747.2" font-size="18.8" textLength="119.43" lengthAdjust="spacingAndGlyphs" font-weight="bold" fill="#C00000">Residual Scale</text>
<text x="24.81" y="793.9" font-size="14.8" textLength="27.08" lengthAdjust="spacingAndGlyphs">0.00</text>
<text x="24.81" y="739.32" font-size="14.8" textLength="27.09" lengthAdjust="spacingAndGlyphs">0.05</text>
<text x="24.81" y="684.75" font-size="14.8" textLength="27.08" lengthAdjust="spacingAndGlyphs">0.10</text>
<text x="24.81" y="630.17" font-size="14.8" textLength="27.09" lengthAdjust="spacingAndGlyphs">0.15</text>
<text x="24.81" y="575.6" font-size="14.8" textLength="27.08" lengthAdjust="spacingAndGlyphs">0.20</text>
<text x="62.11" y="812.3" font-size="14.8" textLength="7.79" lengthAdjust="spacingAndGlyphs">0</text>
<text x="105.03" y="812.3" font-size="14.8" textLength="8.19" lengthAdjust="spacingAndGlyphs">5</text>
<text x="144.4" y="812.3" font-size="14.8" textLength="15.56" lengthAdjust="spacingAndGlyphs">10</text>
<text x="187.69" y="812.3" font-size="14.8" textLength="15.58" lengthAdjust="spacingAndGlyphs">15</text>
<text x="231.69" y="812.3" font-size="14.8" textLength="14.82" lengthAdjust="spacingAndGlyphs">20</text>
<text x="274.98" y="812.3" font-size="14.8" textLength="14.83" lengthAdjust="spacingAndGlyphs">25</text>
<text x="318.2" y="812.3" font-size="14.8" textLength="14.88" lengthAdjust="spacingAndGlyphs">30</text>
<text x="361.49" y="812.3" font-size="14.8" textLength="14.89" lengthAdjust="spacingAndGlyphs">35</text>
<text x="405.2" y="812.3" font-size="14.8" textLength="14.43" lengthAdjust="spacingAndGlyphs">40</text>
<text x="448.49" y="812.3" font-size="14.8" textLength="14.45" lengthAdjust="spacingAndGlyphs">45</text>
<text x="491.18" y="812.3" font-size="14.8" textLength="15.05" lengthAdjust="spacingAndGlyphs">50</text>
<text x="534.47" y="812.3" font-size="14.8" textLength="15.06" lengthAdjust="spacingAndGlyphs">55</text>
<text x="577.99" y="812.3" font-size="14.8" textLength="14.8" lengthAdjust="spacingAndGlyphs">60</text>
<text x="621.28" y="812.3" font-size="14.8" textLength="14.82" lengthAdjust="spacingAndGlyphs">65</text>
<text x="664.2" y="812.3" font-size="14.8" textLength="15.18" lengthAdjust="spacingAndGlyphs">70</text>
<text x="292.1" y="836" font-size="17.2" textLength="154.52" lengthAdjust="spacingAndGlyphs">Number of Specimens</text>
<g transform="translate(16.1,0)"><text x="-690.53" y="0" font-size="17.2" textLength="10.3" lengthAdjust="spacingAndGlyphs" transform="rotate(-90)">F</text></g>
<g transform="translate(19.5,0)"><text x="-678.4" y="0" font-size="12.6" textLength="10.5" lengthAdjust="spacingAndGlyphs" transform="rotate(-90)">Tr</text></g>
</svg>
</body></html>
